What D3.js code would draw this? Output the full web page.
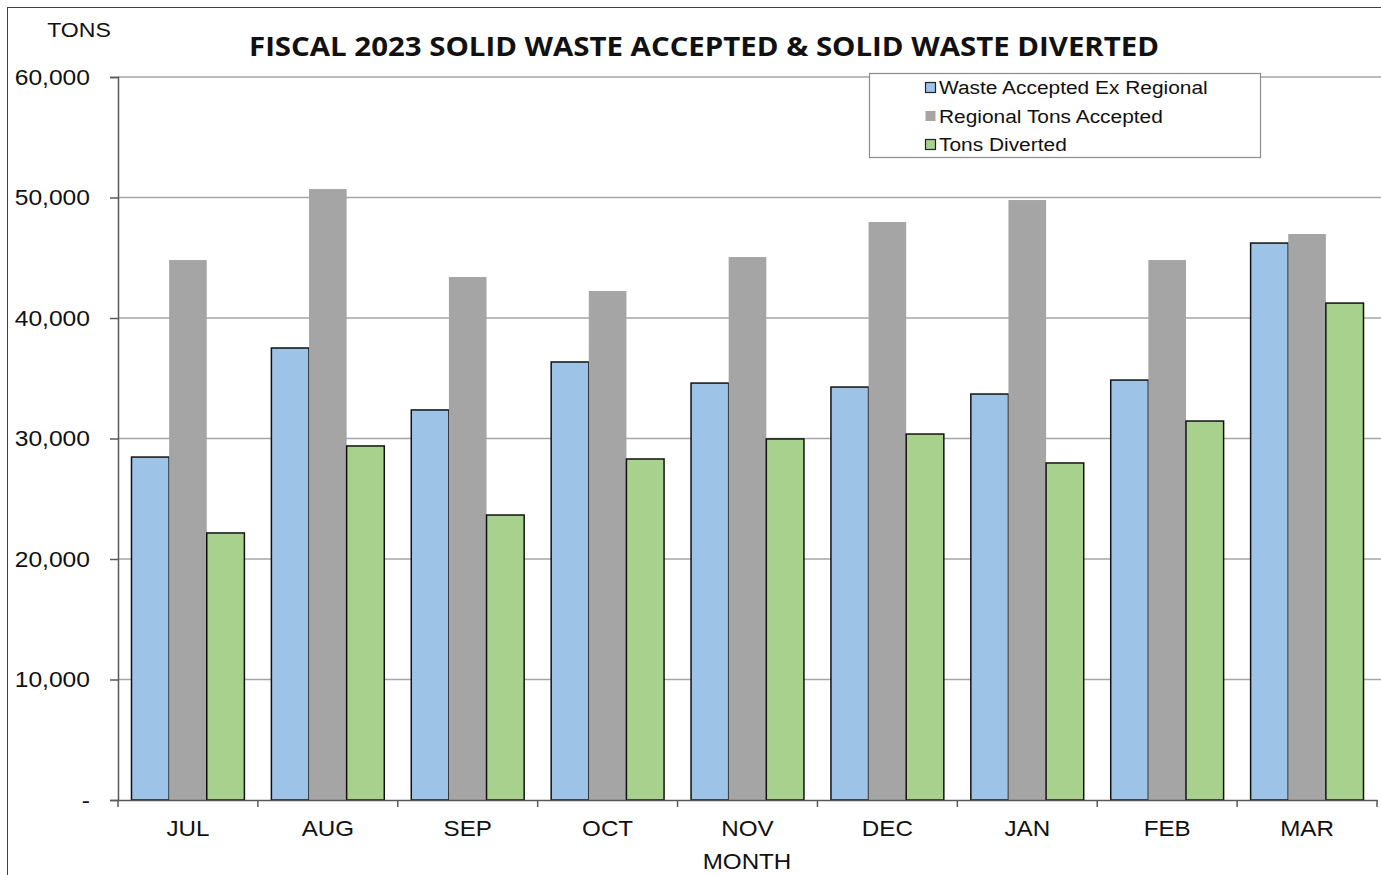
<!DOCTYPE html>
<html>
<head>
<meta charset="utf-8">
<script src="https://cdn.jsdelivr.net/npm/d3@7"></script>
<style>
  body { margin: 0; background: #ffffff; }
  svg { display: block; }
</style>
</head>
<body>
<div id="chart"></div>
<script>
// data
var months = ["JUL", "AUG", "SEP", "OCT", "NOV", "DEC", "JAN", "FEB", "MAR"];
var series_names = ["Waste Accepted Ex Regional", "Regional Tons Accepted", "Tons Diverted"];
var waste_ex_regional = [28460, 37510, 32370, 36350, 34600, 34270, 33690, 34850, 46220];
var regional_tons = [44810, 50700, 43400, 42240, 45060, 47970, 49790, 44810, 46970];
var tons_diverted = [22160, 29380, 23650, 28300, 29960, 30370, 27970, 31450, 41240];
var y_ticks = [0, 10000, 20000, 30000, 40000, 50000, 60000];

const blue_colour = "#9dc3e6";
const grey_colour = "#a5a5a5";
const green_colour = "#a9d18e";
var colours = [blue_colour, grey_colour, green_colour];

var W = 1381, H = 875;
var margin = {top: 77, right: 4, bottom: 75, left: 118};
var width = W - margin.left - margin.right;
var height = H - margin.top - margin.bottom;
var stretch = 1.1; // the reference text is a bit wider than the font

var svg = d3.select("#chart").append("svg")
    .attr("width", W)
    .attr("height", H)
    .style("font-family", "'Liberation Sans', Arial, sans-serif");

// outer frame
svg.append("rect")
    .attr("x", 7.5).attr("y", 7.5)
    .attr("width", W + 20).attr("height", H + 20)
    .attr("fill", "none")
    .attr("stroke", "#404040")
    .attr("stroke-width", 1);

var g = svg.append("g")
    .attr("transform", "translate(" + margin.left + "," + margin.top + ")");

var x0 = d3.scaleBand().domain(months).range([0, width]).paddingInner(0.193).paddingOuter(0.0965);
var x1 = d3.scaleBand().domain(d3.range(3)).range([0, x0.bandwidth()]);
var y = d3.scaleLinear().domain([0, 60000]).range([height, 0]);

// gridlines
g.selectAll(".grid")
    .data(y_ticks.filter(function(d) { return d > 0; }))
    .enter().append("line")
    .attr("x1", 0).attr("x2", width + 4)
    .attr("y1", function(d) { return y(d); })
    .attr("y2", function(d) { return y(d); })
    .attr("stroke", "#a6a6a6")
    .attr("stroke-width", 1.5);

var table = months.map(function(m, i) {
  return {month: m, values: [waste_ex_regional[i], regional_tons[i], tons_diverted[i]]};
});

var groups = g.selectAll(".group")
    .data(table)
    .enter().append("g")
    .attr("transform", function(d) { return "translate(" + x0(d.month) + ",0)"; });

groups.selectAll("rect")
    .data(function(d) { return d.values.map(function(v, k) { return {k: k, v: v}; }); })
    .enter().append("rect")
    .attr("x", function(d) { return x1(d.k); })
    .attr("y", function(d) { return y(d.v); })
    .attr("width", x1.bandwidth())
    .attr("height", function(d) { return height - y(d.v); })
    .attr("fill", function(d) { return colours[d.k]; })
    .attr("stroke", function(d) { return d.k === 1 ? "none" : "#111111"; })
    .attr("stroke-width", 1.5);

// y axis
var yAxis = d3.axisLeft(y)
    .tickValues(y_ticks)
    .tickSize(8)
    .tickPadding(0)
    .tickFormat(function(d) { return d === 0 ? "-" : d3.format(",")(d); });

g.append("g")
    .attr("class", "axis axis--y")
    .call(yAxis)
    .call(function(a) {
      a.select(".domain").attr("stroke", "#595959").attr("stroke-width", 1.5);
      a.selectAll(".tick line").attr("stroke", "#595959").attr("stroke-width", 1.5);
      a.selectAll("text")
        .attr("x", -25)
        .attr("transform", "scale(1.12,1)")
        .attr("font-size", "22px")
        .attr("fill", "#111");
    });

// x axis
var xAxis = d3.axisBottom(x0).tickSize(0).tickPadding(0);
var xg = g.append("g")
    .attr("class", "axis axis--x")
    .attr("transform", "translate(0," + height + ")")
    .call(xAxis);
xg.select(".domain").attr("stroke", "#595959").attr("stroke-width", 1.5);
xg.selectAll("text")
    .attr("y", 36).attr("dy", null)
    .attr("transform", "scale(" + stretch + ",1)")
    .attr("font-size", "22px")
    .attr("fill", "#111");

// x tick marks between months
xg.selectAll(".sep")
    .data(d3.range(months.length + 1))
    .enter().append("line")
    .attr("x1", function(i) { return i * x0.step(); })
    .attr("x2", function(i) { return i * x0.step(); })
    .attr("y1", 0).attr("y2", 7)
    .attr("stroke", "#595959")
    .attr("stroke-width", 1.5);

// labels
function label(px, py, size, txt, sx) {
  return svg.append("text")
    .attr("transform", "translate(" + px + "," + py + ") scale(" + (sx || stretch) + ",1)")
    .attr("text-anchor", "middle")
    .attr("font-size", size)
    .attr("fill", "#111")
    .text(txt);
}

label(79, 37, "21px", "TONS");
label(747, 869, "22px", "MONTH");
label(704, 56, "26.5px", "FISCAL 2023 SOLID WASTE ACCEPTED & SOLID WASTE DIVERTED", 1.11)
    .attr("font-family", "'Open Sans', 'Noto Sans', sans-serif")
    .attr("font-weight", "bold");

// legend
var legend = svg.append("g").attr("transform", "translate(869,73)");
legend.append("rect")
    .attr("x", 0.5).attr("y", 0.5)
    .attr("width", 391).attr("height", 84)
    .attr("fill", "#ffffff")
    .attr("stroke", "#8c8c8c")
    .attr("stroke-width", 1.2);

var items = legend.selectAll(".item")
    .data(series_names)
    .enter().append("g")
    .attr("transform", function(d, i) { return "translate(56," + (14 + i * 28.5) + ")"; });

items.append("rect")
    .attr("x", 0.5).attr("y", -4.5)
    .attr("width", 10).attr("height", 10)
    .attr("fill", function(d, i) { return colours[i]; })
    .attr("stroke", function(d, i) { return i === 1 ? "none" : "#222"; })
    .attr("stroke-width", 1.2);

items.append("text")
    .attr("transform", "translate(14,7) scale(" + stretch + ",1)")
    .attr("font-size", "19px")
    .attr("fill", "#111")
    .text(function(d) { return d; });
</script>
</body>
</html>
